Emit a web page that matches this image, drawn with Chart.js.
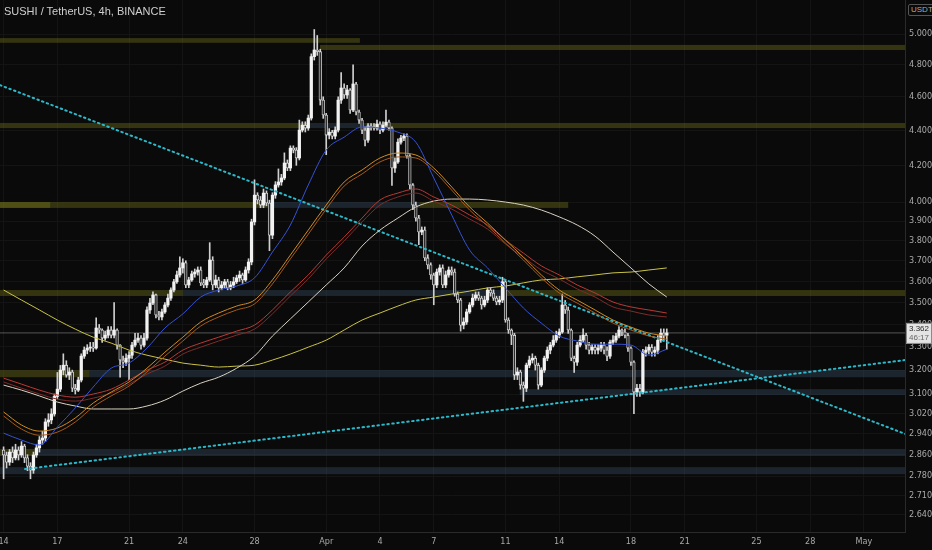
<!DOCTYPE html>
<html>
<head>
<meta charset="utf-8">
<script src="https://cdn.jsdelivr.net/npm/chart.js@4.4.1/dist/chart.umd.min.js"></script>
<style>
  html, body { margin: 0; padding: 0; background: #0a0a0a; }
  #wrap { position: relative; width: 932px; height: 550px; }
  #title { position: absolute; left: 4px; top: 5px; font: 11px "Liberation Sans", Arial, sans-serif; color: #cfcfcf; }
  #unit { position: absolute; left: 908px; top: 4px; padding: 0 2px; border: 1px solid #555; border-radius: 2px;
          font: 8px "Liberation Sans", Arial, sans-serif; color: #aaa; background: #0a0a0a; line-height: 10px; }
</style>
</head>
<body>
<div id="wrap">
  <canvas id="chart" width="932" height="550"></canvas>
  <div id="title">SUSHI / TetherUS, 4h, BINANCE</div>
  <div id="unit">USDT</div>
</div>
<script>
// 4h candles starting Mar 14 00:00, x in days since Mar 14
const firstOpen = 2.878;
const closes = [
  2.859, 2.832, 2.870, 2.848, 2.878, 2.859,
  2.893, 2.848, 2.817, 2.802, 2.859, 2.886,
  2.916, 2.924, 2.987, 2.995, 3.019, 3.090,
  3.120, 3.200, 3.221, 3.179, 3.192, 3.124,
  3.116, 3.158, 3.260, 3.286, 3.295, 3.299,
  3.295, 3.384, 3.375, 3.339, 3.352, 3.375,
  3.352, 3.375, 3.308, 3.243, 3.234, 3.251,
  3.264, 3.308, 3.330, 3.339, 3.308, 3.339,
  3.466, 3.498, 3.536, 3.443, 3.434, 3.457,
  3.489, 3.521, 3.559, 3.598, 3.631, 3.665,
  3.690, 3.583, 3.607, 3.636, 3.645, 3.655,
  3.593, 3.583, 3.607, 3.704, 3.583, 3.607,
  3.569, 3.583, 3.598, 3.569, 3.583, 3.598,
  3.617, 3.631, 3.607, 3.655, 3.694, 3.896,
  4.037, 4.011, 3.984, 4.048, 3.995, 3.828,
  4.037, 4.092, 4.108, 4.130, 4.213, 4.185,
  4.297, 4.286, 4.241, 4.401, 4.430, 4.413,
  4.472, 4.852, 4.895, 4.884, 4.580, 4.490,
  4.372, 4.389, 4.366, 4.401, 4.580, 4.654,
  4.611, 4.642, 4.520, 4.679, 4.508, 4.460,
  4.401, 4.343, 4.425, 4.419, 4.413, 4.436,
  4.401, 4.430, 4.448, 4.413, 4.185, 4.219,
  4.331, 4.355, 4.366, 4.252, 4.092, 3.984,
  3.916, 3.844, 3.854, 3.714, 3.680, 3.631,
  3.583, 3.645, 3.665, 3.583, 3.631, 3.655,
  3.645, 3.540, 3.512, 3.397, 3.411, 3.457,
  3.489, 3.521, 3.536, 3.521, 3.489, 3.512,
  3.559, 3.545, 3.521, 3.503, 3.512, 3.598,
  3.420, 3.375, 3.352, 3.179, 3.192, 3.137,
  3.124, 3.221, 3.243, 3.251, 3.221, 3.137,
  3.200, 3.251, 3.286, 3.308, 3.330, 3.352,
  3.366, 3.489, 3.466, 3.375, 3.251, 3.234,
  3.308, 3.330, 3.352, 3.308, 3.286, 3.299,
  3.286, 3.295, 3.308, 3.286, 3.260, 3.321,
  3.330, 3.348, 3.375, 3.366, 3.352, 3.295,
  3.234, 3.108, 3.124, 3.108, 3.277, 3.286,
  3.299, 3.277, 3.286, 3.330, 3.361, 3.352,
  3.362
];
const highs = [
  2.89, 2.87, 2.88, 2.89, 2.90, 2.89,
  2.91, 2.90, 2.86, 2.83, 2.87, 2.90,
  2.93, 2.95, 3.00, 3.02, 3.04, 3.10,
  3.19, 3.22, 3.27, 3.24, 3.21, 3.20,
  3.14, 3.17, 3.27, 3.30, 3.31, 3.32,
  3.32, 3.43, 3.40, 3.38, 3.37, 3.39,
  3.39, 3.50, 3.38, 3.31, 3.26, 3.27,
  3.28, 3.32, 3.36, 3.36, 3.35, 3.36,
  3.48, 3.52, 3.55, 3.54, 3.46, 3.47,
  3.50, 3.54, 3.57, 3.61, 3.65, 3.72,
  3.71, 3.70, 3.62, 3.65, 3.66, 3.67,
  3.67, 3.61, 3.62, 3.79, 3.72, 3.63,
  3.62, 3.60, 3.61, 3.61, 3.60, 3.62,
  3.63, 3.65, 3.64, 3.67, 3.71, 3.91,
  4.12, 4.05, 4.03, 4.07, 4.06, 4.01,
  4.05, 4.11, 4.18, 4.15, 4.27, 4.23,
  4.31, 4.31, 4.30, 4.46, 4.45, 4.45,
  4.49, 4.87, 5.03, 4.99, 4.90, 4.60,
  4.50, 4.41, 4.40, 4.42, 4.60, 4.75,
  4.68, 4.67, 4.65, 4.80, 4.69, 4.52,
  4.47, 4.42, 4.44, 4.44, 4.44, 4.46,
  4.45, 4.45, 4.52, 4.46, 4.42, 4.24,
  4.35, 4.37, 4.38, 4.38, 4.26, 4.10,
  4.00, 3.93, 3.87, 3.87, 3.73, 3.69,
  3.64, 3.66, 3.68, 3.68, 3.65, 3.67,
  3.67, 3.66, 3.55, 3.52, 3.43, 3.47,
  3.50, 3.54, 3.55, 3.55, 3.53, 3.53,
  3.57, 3.57, 3.56, 3.53, 3.53, 3.62,
  3.61, 3.43, 3.38, 3.36, 3.21, 3.20,
  3.15, 3.23, 3.26, 3.27, 3.26, 3.23,
  3.21, 3.26, 3.30, 3.32, 3.35, 3.37,
  3.38, 3.54, 3.51, 3.48, 3.38, 3.26,
  3.32, 3.35, 3.38, 3.36, 3.32, 3.31,
  3.31, 3.31, 3.32, 3.32, 3.30, 3.33,
  3.35, 3.36, 3.39, 3.38, 3.38, 3.36,
  3.30, 3.24, 3.14, 3.14, 3.29, 3.30,
  3.31, 3.31, 3.30, 3.35, 3.38, 3.38,
  3.38
];
const lows = [
  2.77, 2.81, 2.82, 2.83, 2.84, 2.84,
  2.85, 2.83, 2.80, 2.77, 2.79, 2.85,
  2.87, 2.90, 2.91, 2.97, 2.98, 3.01,
  3.08, 3.11, 3.18, 3.17, 3.16, 3.11,
  3.10, 3.11, 3.15, 3.25, 3.27, 3.28,
  3.28, 3.29, 3.36, 3.32, 3.33, 3.34,
  3.34, 3.34, 3.29, 3.17, 3.21, 3.22,
  3.16, 3.25, 3.30, 3.32, 3.29, 3.30,
  3.33, 3.45, 3.49, 3.43, 3.42, 3.42,
  3.45, 3.48, 3.51, 3.55, 3.59, 3.62,
  3.64, 3.57, 3.57, 3.60, 3.62, 3.63,
  3.58, 3.57, 3.57, 3.60, 3.56, 3.57,
  3.55, 3.56, 3.57, 3.56, 3.56, 3.57,
  3.59, 3.60, 3.59, 3.60, 3.64, 3.68,
  3.88, 3.99, 3.97, 3.97, 3.98, 3.75,
  3.81, 4.02, 4.08, 4.09, 4.12, 4.17,
  4.17, 4.27, 4.20, 4.23, 4.39, 4.39,
  4.40, 4.46, 4.83, 4.86, 4.55, 4.47,
  4.26, 4.35, 4.35, 4.35, 4.39, 4.56,
  4.59, 4.59, 4.50, 4.51, 4.49, 4.44,
  4.38, 4.31, 4.33, 4.40, 4.40, 4.40,
  4.38, 4.39, 4.42, 4.40, 4.09, 4.16,
  4.21, 4.32, 4.34, 4.24, 4.07, 3.96,
  3.90, 3.78, 3.83, 3.70, 3.66, 3.61,
  3.49, 3.57, 3.63, 3.57, 3.57, 3.62,
  3.63, 3.53, 3.50, 3.37, 3.38, 3.40,
  3.45, 3.48, 3.51, 3.51, 3.47, 3.48,
  3.50, 3.53, 3.51, 3.49, 3.49, 3.50,
  3.41, 3.36, 3.31, 3.16, 3.16, 3.12,
  3.07, 3.11, 3.21, 3.23, 3.20, 3.12,
  3.13, 3.19, 3.24, 3.27, 3.30, 3.32,
  3.34, 3.36, 3.45, 3.36, 3.24, 3.19,
  3.22, 3.30, 3.32, 3.29, 3.27, 3.27,
  3.27, 3.27, 3.28, 3.27, 3.24, 3.25,
  3.31, 3.32, 3.34, 3.35, 3.34, 3.28,
  3.22, 3.02, 3.09, 3.09, 3.10, 3.26,
  3.27, 3.26, 3.26, 3.27, 3.32, 3.33,
  3.29
];

// moving averages, one reading per day (Mar 14 .. Apr 20)
const emaBlue = [2.943, 2.916, 2.897, 2.967, 3.043, 3.129, 3.208, 3.230, 3.295, 3.384, 3.448, 3.526, 3.559, 3.578, 3.617, 3.743, 3.880, 4.092, 4.286, 4.360, 4.419, 4.413, 4.389, 4.331, 4.130, 3.932, 3.753, 3.665, 3.569, 3.475, 3.406, 3.348, 3.326, 3.312, 3.312, 3.308, 3.264, 3.290];
const emaOrange = [3.027, 2.975, 2.951, 2.963, 3.003, 3.063, 3.108, 3.150, 3.208, 3.277, 3.343, 3.411, 3.452, 3.484, 3.512, 3.607, 3.728, 3.854, 3.984, 4.108, 4.174, 4.241, 4.269, 4.258, 4.185, 4.081, 3.974, 3.890, 3.803, 3.718, 3.631, 3.559, 3.512, 3.466, 3.420, 3.388, 3.361, 3.348];
const emaOrange2 = [3.011, 2.959, 2.935, 2.947, 2.987, 3.047, 3.092, 3.133, 3.192, 3.260, 3.326, 3.393, 3.434, 3.466, 3.494, 3.588, 3.709, 3.833, 3.963, 4.086, 4.152, 4.219, 4.247, 4.241, 4.169, 4.064, 3.958, 3.875, 3.788, 3.704, 3.617, 3.545, 3.498, 3.452, 3.406, 3.375, 3.348, 3.334];
const emaRed = [3.166, 3.141, 3.116, 3.096, 3.087, 3.100, 3.120, 3.158, 3.200, 3.234, 3.286, 3.317, 3.343, 3.370, 3.397, 3.466, 3.550, 3.631, 3.728, 3.818, 3.916, 4.011, 4.048, 4.070, 4.027, 3.984, 3.932, 3.880, 3.803, 3.738, 3.675, 3.631, 3.583, 3.545, 3.503, 3.480, 3.466, 3.452];
const emaRed2 = [3.150, 3.124, 3.100, 3.079, 3.071, 3.083, 3.104, 3.141, 3.183, 3.217, 3.269, 3.299, 3.326, 3.352, 3.379, 3.448, 3.531, 3.612, 3.709, 3.798, 3.896, 3.984, 4.027, 4.048, 4.005, 3.963, 3.911, 3.859, 3.783, 3.718, 3.655, 3.612, 3.564, 3.526, 3.480, 3.461, 3.443, 3.434];
const maWhite = [3.137, 3.116, 3.092, 3.067, 3.051, 3.039, 3.039, 3.039, 3.051, 3.075, 3.112, 3.145, 3.170, 3.208, 3.260, 3.348, 3.425, 3.503, 3.583, 3.665, 3.773, 3.854, 3.916, 3.974, 4.005, 4.016, 4.016, 4.011, 4.000, 3.984, 3.958, 3.922, 3.880, 3.823, 3.743, 3.665, 3.588, 3.526];
const maYellow = [3.559, 3.512, 3.466, 3.420, 3.379, 3.343, 3.317, 3.286, 3.264, 3.247, 3.230, 3.221, 3.213, 3.217, 3.221, 3.243, 3.269, 3.299, 3.330, 3.375, 3.420, 3.452, 3.484, 3.512, 3.526, 3.540, 3.554, 3.569, 3.578, 3.593, 3.607, 3.612, 3.622, 3.631, 3.641, 3.645, 3.655, 3.665];

// horizontal zones drawn on the chart (price range, day range)
const zoneTop    = [4.973, 4.928, 4.443, 4.443, 4.443, 4.000, 4.000, 4.000, 4.000, 3.559, 3.559, 3.559, 3.200, 3.200, 3.120, 2.882, 2.882, 2.813];
const zoneBottom = [4.942, 4.895, 4.413, 4.413, 4.413, 3.969, 3.969, 3.969, 3.969, 3.531, 3.531, 3.531, 3.170, 3.170, 3.096, 2.855, 2.855, 2.787];
const zoneFrom   = [-0.2, 17.65, -0.2, 17.1, 20.2, -0.2, 14.7, 23.2, -0.2, -0.2, 10.0, 28.1, -0.2, 4.8, 28.8, -0.2, 1.9, -0.2];
const zoneTo     = [19.88, 50.3, 17.1, 20.2, 50.3, 14.7, 23.2, 31.5, 2.6, 10.0, 28.1, 50.3, 4.8, 50.3, 50.3, 1.9, 50.3, 50.3];
const zoneKind   = ['res', 'res', 'res', 'sup', 'res', 'res', 'sup', 'res', 'res', 'res', 'sup', 'res', 'res', 'sup', 'sup', 'res', 'sup', 'sup'];

// trend lines (day, price)
const downTrend = [[-0.2, 4.672], [50.3, 2.940]];
const upTrend = [[1.2, 2.806], [50.3, 3.243]];
const lastPrice = 3.362;
const countdown = '46:17';

const dayTicks = [0, 3, 7, 10, 14, 18, 21, 24, 28, 31, 35, 38, 42, 45, 48];
const dayLabels = ['14', '17', '21', '24', '28', 'Apr', '4', '7', '11', '14', '18', '21', '25', '28', 'May'];
const priceTicks = [5.0, 4.8, 4.6, 4.4, 4.2, 4.0, 3.9, 3.8, 3.7, 3.6, 3.5, 3.4, 3.3, 3.2, 3.1, 3.02, 2.94, 2.86, 2.78, 2.71, 2.64];

const opens = closes.map((c, i) => i === 0 ? firstOpen : closes[i - 1]);
const isUp = closes.map((c, i) => c >= opens[i]);
const maSeries = arr => arr.map((v, d) => ({ x: d, y: v }));

const zonePlugin = {
  id: 'zones',
  beforeDatasetsDraw(chart) {
    const { ctx, chartArea, scales } = chart;
    ctx.save();
    ctx.beginPath();
    ctx.rect(chartArea.left, chartArea.top, chartArea.width, chartArea.height);
    ctx.clip();
    zoneTop.forEach((top, i) => {
      const x1 = scales.x.getPixelForValue(zoneFrom[i]);
      const x2 = scales.x.getPixelForValue(zoneTo[i]);
      const y1 = scales.y.getPixelForValue(top);
      const y2 = scales.y.getPixelForValue(zoneBottom[i]);
      ctx.fillStyle = zoneKind[i] === 'res' ? 'rgba(120,120,30,0.38)' : 'rgba(60,86,108,0.36)';
      ctx.fillRect(x1, y1, x2 - x1, y2 - y1);
    });
    ctx.restore();
  }
};

const bgPlugin = {
  id: 'bg',
  beforeDraw(chart) {
    const ctx = chart.ctx;
    ctx.save();
    ctx.fillStyle = '#0a0a0a';
    ctx.fillRect(0, 0, chart.width, chart.height);
    ctx.restore();
  }
};

const tagPlugin = {
  id: 'tag',
  afterDraw(chart) {
    const { ctx, scales, chartArea } = chart;
    const y = scales.y.getPixelForValue(lastPrice);
    const x = chartArea.right + 1;
    ctx.save();
    ctx.fillStyle = '#e4e4e4';
    ctx.fillRect(x, y - 10, 26, 21);
    ctx.strokeStyle = '#8a8a8a';
    ctx.strokeRect(x + 0.5, y - 9.5, 25, 20);
    ctx.fillStyle = '#2a2a2a';
    ctx.font = '8px "Liberation Sans", Arial, sans-serif';
    ctx.textAlign = 'left';
    ctx.textBaseline = 'middle';
    ctx.fillText(lastPrice.toFixed(3), x + 3, y - 4);
    ctx.fillStyle = '#666';
    ctx.fillText(countdown, x + 3, y + 5);
    ctx.restore();
  }
};

const lineDs = (label, arr, color) => ({
  type: 'line', label, data: maSeries(arr), borderColor: color, borderWidth: 1,
  pointRadius: 0, cubicInterpolationMode: 'monotone', order: 0
});

const tickFont = { family: '"Liberation Sans Narrow", "DejaVu Sans Condensed", Arial, sans-serif', size: 9 };

new Chart(document.getElementById('chart'), {
  type: 'bar',
  data: {
    datasets: [
      lineDs('EMA fast', emaBlue, '#3552d6'),
      lineDs('EMA mid', emaOrange, '#d08a22'),
      lineDs('EMA mid 2', emaOrange2, '#a85a18'),
      lineDs('EMA slow', emaRed, '#b83a34'),
      lineDs('EMA slow 2', emaRed2, '#7e2c2a'),
      lineDs('MA long', maWhite, '#d9d2c2'),
      lineDs('MA longest', maYellow, '#c9c247'),
      {
        type: 'line', label: 'down trend', data: downTrend.map(p => ({ x: p[0], y: p[1] })),
        borderColor: '#2cb8c8', borderWidth: 2, borderDash: [1.5, 3.5], borderCapStyle: 'round',
        pointRadius: 0, order: 0
      },
      {
        type: 'line', label: 'up trend', data: upTrend.map(p => ({ x: p[0], y: p[1] })),
        borderColor: '#2cb8c8', borderWidth: 2, borderDash: [1.5, 3.5], borderCapStyle: 'round',
        pointRadius: 0, order: 0
      },
      {
        type: 'line', label: 'last', data: [{ x: -0.2, y: lastPrice }, { x: 50.3, y: lastPrice }],
        borderColor: 'rgba(150,150,150,0.55)', borderWidth: 1, pointRadius: 0, order: 5
      },
      {
        label: 'body', order: 1, grouped: false, barThickness: 2.6, minBarLength: 1,
        data: closes.map((c, i) => ({ x: i / 6, y: [opens[i], c] })),
        backgroundColor: isUp.map(u => u ? '#f2f2f2' : '#2b2b2b'),
        borderColor: '#e8e8e8', borderWidth: isUp.map(u => u ? 0 : 0.8), borderSkipped: false
      },
      {
        label: 'wick', order: 2, grouped: false, barThickness: 1,
        data: closes.map((c, i) => ({ x: i / 6, y: [lows[i], highs[i]] })),
        backgroundColor: '#cfcfcf', borderWidth: 0
      }
    ]
  },
  options: {
    responsive: false,
    animation: false,
    devicePixelRatio: 1,
    layout: { padding: 0 },
    plugins: { legend: { display: false }, tooltip: { enabled: false }, title: { display: false } },
    scales: {
      x: {
        type: 'linear', min: -0.2, max: 50.29, offset: false,
        grid: { color: '#141414', drawTicks: false, offset: false },
        border: { display: true, color: '#2a2a2a' },
        afterBuildTicks: s => { s.ticks = dayTicks.map(v => ({ value: v })); },
        afterFit: s => { s.height = 18; s.paddingLeft = 0; s.paddingRight = 0; },
        ticks: {
          autoSkip: false, maxRotation: 0, padding: 4, color: '#a9a9a9', font: tickFont,
          callback: v => dayLabels[dayTicks.indexOf(v)]
        }
      },
      y: {
        type: 'logarithmic', position: 'right', min: 2.581, max: 5.231,
        grid: { color: '#141414', drawTicks: false },
        border: { display: true, color: '#2a2a2a' },
        afterBuildTicks: s => { s.ticks = priceTicks.map(v => ({ value: v })); },
        afterFit: s => { s.width = 27; s.paddingTop = 0; s.paddingBottom = 0; },
        ticks: {
          autoSkip: false, padding: 4, color: '#a9a9a9', font: tickFont,
          callback: v => Number(v).toFixed(3)
        }
      }
    }
  },
  plugins: [bgPlugin, zonePlugin, tagPlugin]
});
</script>
</body>
</html>
